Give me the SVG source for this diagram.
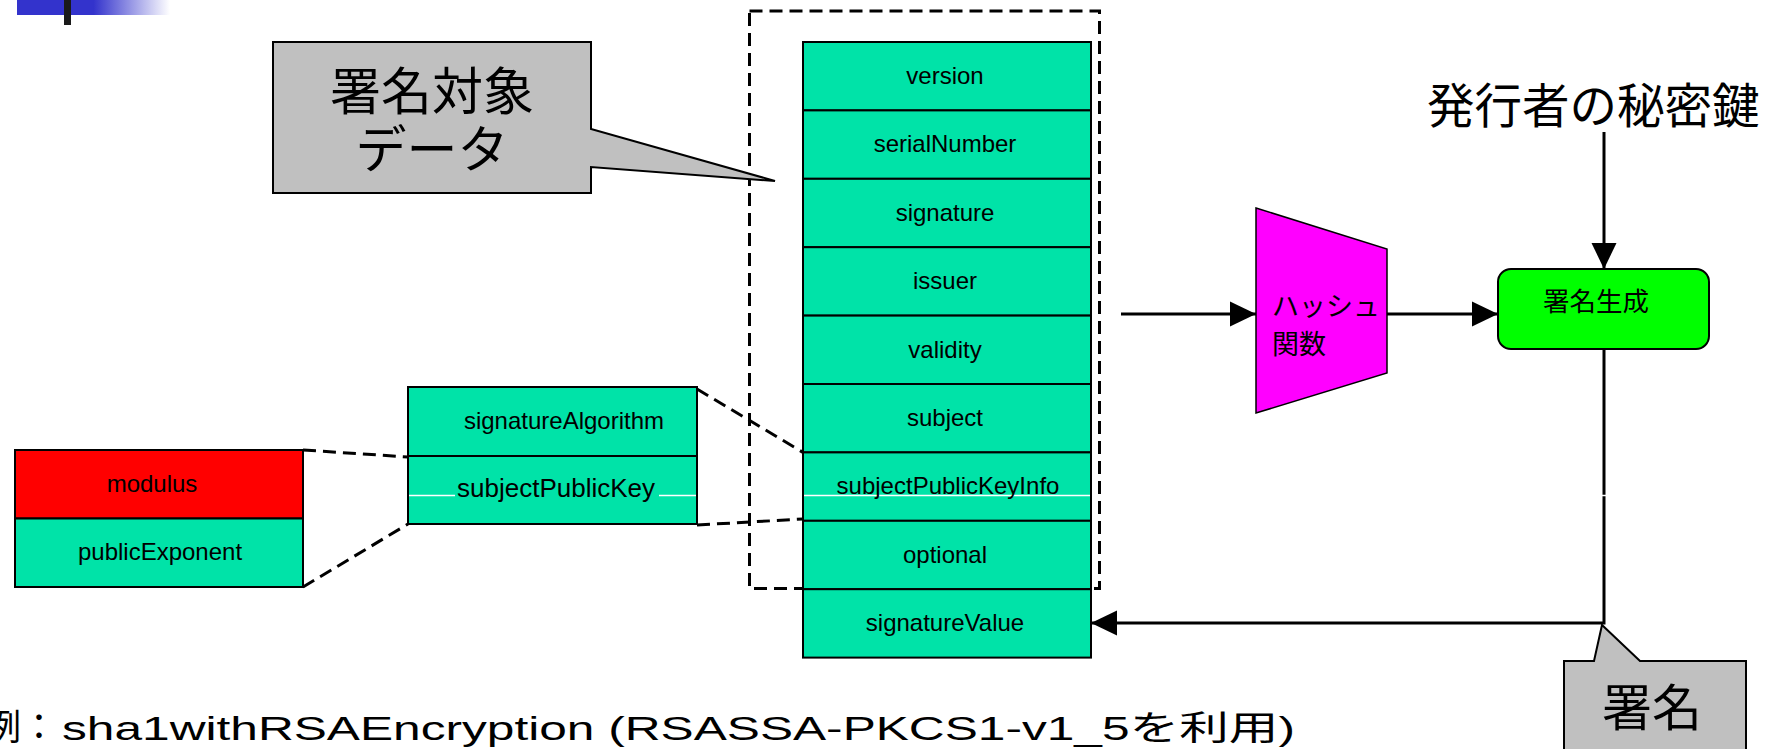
<svg xmlns="http://www.w3.org/2000/svg" width="1769" height="749" viewBox="0 0 1769 749">
  <style>
    .lbl { font-family: "Liberation Sans", "Noto Sans CJK JP", sans-serif; font-size: 24px; fill: #000; text-anchor: middle; }
    .jp { font-family: "Noto Sans CJK JP", "Liberation Sans", sans-serif; fill: #000; }
    .cell { fill: #00e3a8; stroke: #000; stroke-width: 2; }
    .red { fill: #ff0000; stroke: #000; stroke-width: 2; }
    .dash { fill: none; stroke: #000; stroke-width: 3; stroke-dasharray: 13 7; }
    .wire { fill: none; stroke: #000; stroke-width: 3; }
    .callout { fill: #c0c0c0; stroke: #000; stroke-width: 2; }
    .hair { stroke: #fff; stroke-width: 1.5; }
  </style>
  <defs>
    <linearGradient id="barFade" x1="0" y1="0" x2="1" y2="0">
      <stop offset="0" stop-color="#3333cc"/>
      <stop offset="0.5" stop-color="#3333cc"/>
      <stop offset="1" stop-color="#3333cc" stop-opacity="0"/>
    </linearGradient>
    <marker id="head" markerUnits="userSpaceOnUse" markerWidth="26" markerHeight="26" viewBox="0 0 26 26" refX="26" refY="13" orient="auto">
      <path d="M0,0.5 L26,13 L0,25.5 Z" fill="#000"/>
    </marker>
  </defs>

  <!-- title bar ornament -->
  <g id="title-bar">
    <rect x="17" y="0" width="153" height="15" fill="url(#barFade)"/>
    <rect x="64" y="0" width="7" height="25" fill="#1a1a1a"/>
  </g>

  <!-- dashed frame around the signed part -->
  <g id="tbs-frame">
    <rect class="dash" x="749.5" y="11" width="350" height="577.5"/>
  </g>

  <!-- certificate fields -->
  <g id="certificate">
    <g id="f-version"><rect class="cell" x="803" y="42" width="288" height="68.4"/><text class="lbl" x="945" y="84">version</text></g>
    <g id="f-serialNumber"><rect class="cell" x="803" y="110.4" width="288" height="68.4"/><text class="lbl" x="945" y="152.4">serialNumber</text></g>
    <g id="f-signature"><rect class="cell" x="803" y="178.8" width="288" height="68.4"/><text class="lbl" x="945" y="220.8">signature</text></g>
    <g id="f-issuer"><rect class="cell" x="803" y="247.2" width="288" height="68.4"/><text class="lbl" x="945" y="289.2">issuer</text></g>
    <g id="f-validity"><rect class="cell" x="803" y="315.6" width="288" height="68.4"/><text class="lbl" x="945" y="357.6">validity</text></g>
    <g id="f-subject"><rect class="cell" x="803" y="384" width="288" height="68.4"/><text class="lbl" x="945" y="426">subject</text></g>
    <g id="f-subjectPublicKeyInfo"><rect class="cell" x="803" y="452.4" width="288" height="68.4"/><line class="hair" x1="804" y1="495.5" x2="1090" y2="495.5"/><text class="lbl" x="948" y="494.4">subjectPublicKeyInfo</text></g>
    <g id="f-optional"><rect class="cell" x="803" y="520.8" width="288" height="68.4"/><text class="lbl" x="945" y="562.8">optional</text></g>
    <g id="f-signatureValue"><rect class="cell" x="803" y="589.2" width="288" height="68.4"/><text class="lbl" x="945" y="631.2">signatureValue</text></g>
  </g>

  <!-- SubjectPublicKeyInfo breakdown -->
  <g id="spki">
    <rect class="cell" x="408" y="387" width="289" height="69"/>
    <text class="lbl" x="564" y="429">signatureAlgorithm</text>
    <rect class="cell" x="408" y="456" width="289" height="68"/>
    <line class="hair" x1="409" y1="495.5" x2="455" y2="495.5"/>
    <line class="hair" x1="659" y1="495.5" x2="696" y2="495.5"/>
    <text class="lbl" x="556" y="497" style="font-size:26px">subjectPublicKey</text>
  </g>

  <!-- RSA public key breakdown -->
  <g id="rsa-key">
    <rect class="red" x="15" y="450" width="288" height="68.5"/>
    <text class="lbl" x="152" y="492">modulus</text>
    <rect class="cell" x="15" y="518.5" width="288" height="68.5"/>
    <text class="lbl" x="160" y="560">publicExponent</text>
  </g>

  <!-- hash function -->
  <g id="hash">
    <polygon points="1256,208 1387,249 1387,373 1256,413" fill="#ff00ff" stroke="#000" stroke-width="1.5"/>
    <text class="jp" x="1272" y="316" style="font-size:27px">ハッシュ</text>
    <text class="jp" x="1272" y="354" style="font-size:27px">関数</text>
  </g>

  <!-- signature generation -->
  <g id="sign">
    <rect x="1498" y="269" width="211" height="80" rx="13" ry="13" fill="#00ff00" stroke="#000" stroke-width="2"/>
    <text class="jp" x="1543" y="311" style="font-size:26.5px">署名生成</text>
  </g>

  <!-- issuer private key label -->
  <g id="private-key">
    <text class="jp" x="1427" y="123" style="font-size:47.5px">発行者の秘密鍵</text>
  </g>

  <!-- connectors -->
  <g id="connectors">
    <line class="dash" x1="697" y1="389" x2="803" y2="452.4"/>
    <line class="dash" x1="697" y1="525" x2="803" y2="519"/>
    <line class="dash" x1="303" y1="450" x2="408" y2="457"/>
    <line class="dash" x1="303" y1="587" x2="408" y2="524"/>
    <line class="wire" x1="1121" y1="314" x2="1256" y2="314" marker-end="url(#head)"/>
    <line class="wire" x1="1387" y1="314" x2="1498" y2="314" marker-end="url(#head)"/>
    <line class="wire" x1="1604" y1="132" x2="1604" y2="269" marker-end="url(#head)"/>
    <polyline class="wire" points="1604,349 1604,623 1091,623" marker-end="url(#head)"/>
    <line class="hair" x1="1092" y1="495.5" x2="1612" y2="495.5"/>
  </g>

  <!-- callout: signed data -->
  <g id="callout-tbs">
    <path class="callout" d="M273,42 H591 V129 L775,181 L591,167 V193 H273 Z"/>
    <text class="jp" x="432" y="110" text-anchor="middle" style="font-size:51px">署名対象<tspan x="432" dy="58">データ</tspan></text>
  </g>

  <!-- callout: signature -->
  <g id="callout-sig">
    <path class="callout" d="M1564,661 H1594 L1602,625 L1640,661 H1746 V760 H1564 Z"/>
    <text class="jp" x="1652" y="726" text-anchor="middle" style="font-size:50px">署名</text>
  </g>

  <!-- example note -->
  <g id="note">
    <text class="jp" x="-15" y="740" style="font-size:36px">例：</text>
    <text x="62" y="740" textLength="1233" lengthAdjust="spacingAndGlyphs" style="font-family:'Liberation Sans','Noto Sans CJK JP',sans-serif;font-size:34px">sha1withRSAEncryption (RSASSA-PKCS1-v1_5を利用)</text>
  </g>
</svg>
